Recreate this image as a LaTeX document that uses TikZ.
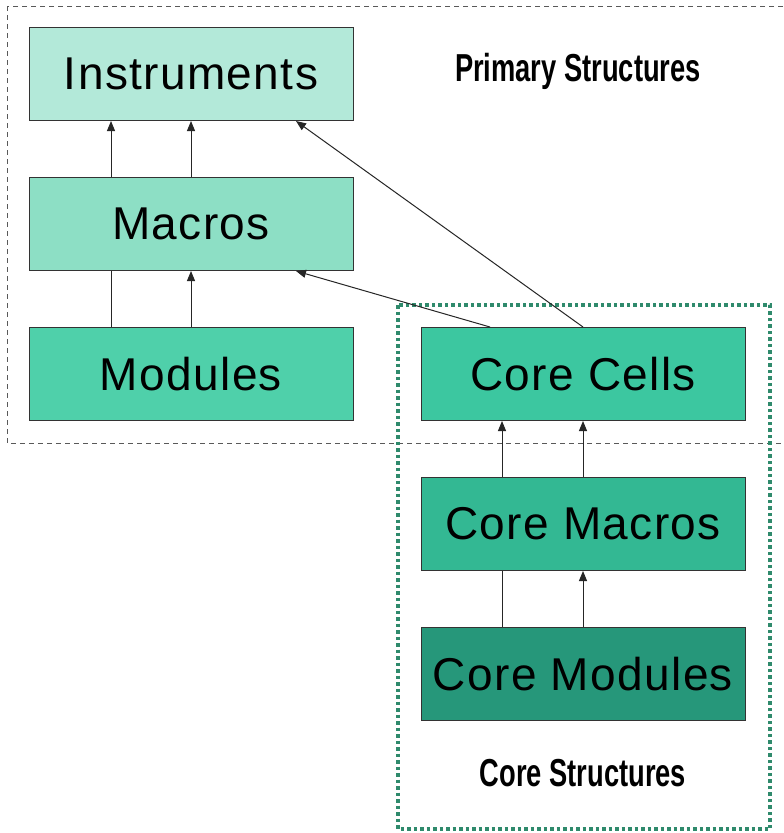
\documentclass[tikz,border=0pt]{standalone}
\usepackage{fontspec}
\setmainfont{Liberation Sans}
\newfontfamily\boxfont[LetterSpace=3]{Liberation Sans}
\newfontfamily\labfont[FakeStretch=0.70]{Liberation Sans Bold}
\usetikzlibrary{arrows.meta}
\definecolor{cInst}{HTML}{B3E9D9}
\definecolor{cMacro}{HTML}{8DDFC5}
\definecolor{cMod}{HTML}{4FD0AA}
\definecolor{cCell}{HTML}{3CC7A0}
\definecolor{cCMacro}{HTML}{33B893}
\definecolor{cCMod}{HTML}{26977A}
\definecolor{cDot}{HTML}{2F8A6C}
\definecolor{cEdge}{HTML}{333333}
\tikzset{
  blk/.style={draw=cEdge, line width=1pt, minimum width=324pt, minimum height=93pt,
    inner sep=0pt, font=\boxfont\fontsize{46}{50}\selectfont},
  arr/.style={draw=black!85, line width=1pt, -{Triangle[length=10pt,width=8pt]}},
  plain/.style={draw=black!85, line width=1pt},
  lab/.style={font=\labfont\fontsize{39}{42}\selectfont, inner sep=0pt}
}
\begin{document}
\begin{tikzpicture}[x=1pt,y=-1pt]
\useasboundingbox (0,0) rectangle (784,833);
\fill[white] (0,0) rectangle (784,833);
% outer dashed region
\draw[draw=black!65, line width=1pt, dash pattern=on 5pt off 4pt] (7,6) rectangle (795,443);
% core dotted region
\draw[draw=cDot, line width=3.5pt, dash pattern=on 3.5pt off 3pt] (398,305) rectangle (770,829);
% boxes
\node[blk, fill=cInst] (inst) at (191,74) {Instruments};
\node[blk, fill=cMacro] (macros) at (191,224) {Macros};
\node[blk, fill=cMod] (modules) at (191,374) {Modules};
\node[blk, fill=cCell] (cells) at (583,374) {Core Cells};
\node[blk, fill=cCMacro] (cmacros) at (583,524) {Core Macros};
\node[blk, fill=cCMod] (cmodules) at (583,674) {Core Modules};
% labels
\node[lab] (plab) at (578,71) {Primary Structures};
\node[lab] (clab) at (583,773) {Core Structures};
% connectors
\draw[arr] ([xshift=-80pt]macros.north) -- ([xshift=-80pt]inst.south);
\draw[arr] (macros.north) -- (inst.south);
\draw[plain] ([xshift=-80pt]modules.north) -- ([xshift=-80pt]macros.south);
\draw[arr] (modules.north) -- (macros.south);
\draw[arr] ([xshift=-93pt]cells.north) -- ([xshift=105pt]macros.south);
\draw[arr] (cells.north) -- ([xshift=105pt]inst.south);
\draw[arr] ([xshift=-81pt]cmacros.north) -- ([xshift=-81pt]cells.south);
\draw[arr] (cmacros.north) -- (cells.south);
\draw[plain] ([xshift=-81pt]cmodules.north) -- ([xshift=-81pt]cmacros.south);
\draw[arr] (cmodules.north) -- (cmacros.south);
\end{tikzpicture}
\end{document}
